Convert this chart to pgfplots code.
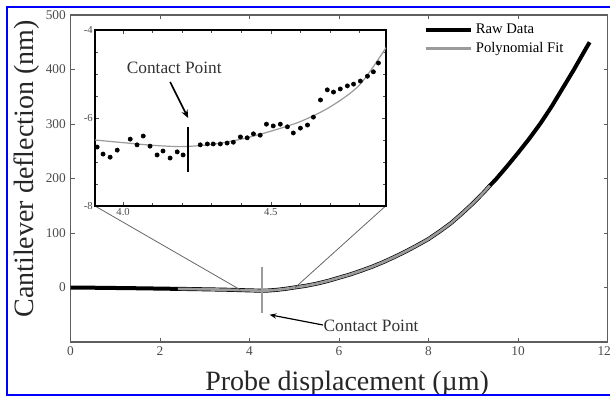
\documentclass[border=0pt]{standalone}
\usepackage{pgfplots}
\pgfplotsset{compat=1.18}
\usepackage{fontspec}
\setmainfont{Liberation Serif}
\usetikzlibrary{arrows.meta}
\definecolor{polygray}{RGB}{155,155,155}
\definecolor{axgray}{RGB}{95,95,95}
\begin{document}
\begin{tikzpicture}
\useasboundingbox (-52.9pt,-41.25pt) rectangle (404.6pt,256.5pt);
\begin{axis}[
  at={(0pt,0pt)}, anchor=south west,
  scale only axis, width=402.75pt, height=245.25pt,
  xmin=0, xmax=12, ymin=-100, ymax=500,
  xtick={0,2,...,12}, ytick={0,100,...,500},
  xticklabels={0,2,4,6,8,10,\llap{1}2},
  tick align=inside, major tick length=3pt,
  axis line style={axgray, line width=0.8pt},
  every tick/.style={axgray, line width=0.6pt},
  tick label style={font=\fontsize{10}{12}\selectfont, text=black!70},
  /pgf/number format/assume math mode=true,
  xlabel={Probe displacement (\textmu m)},
  ylabel={Cantilever deflection (nm)},
  label style={font=\fontsize{21}{24}\selectfont, text=black!85, inner sep=0pt},
  xlabel style={at={(axis description cs:0.515,-0.1468)}, anchor=base},
  ylabel style={at={(axis description cs:-0.0695,0.529)}, anchor=base},
  legend style={at={(axis description cs:0.655,0.985)}, anchor=north west,
    draw=none, fill=none, font=\fontsize{11}{13}\selectfont, row sep=1pt,
    inner sep=1pt},
  legend cell align=left,
  legend image code/.code={\draw[#1] (0pt,0pt) -- (34pt,0pt);},
]
\addplot[black, line width=3pt, line join=round] coordinates {
(0,0)(0.5,-0.4)(1,-0.9)(1.5,-1.4)(2,-2)(2.4,-2.5)(2.8,-3)(3.2,-3.6)(3.6,-4.3)
(4.0,-5.3)(4.2,-5.7)(4.4,-5.6)(4.6,-4.4)(4.8,-2.5)(5.0,0)(5.25,3)(5.5,7)
(5.75,12)(6.0,18)(6.25,24)(6.5,31)(6.75,38.5)(7.0,47)(7.25,56.5)(7.5,66.5)
(7.75,77.5)(8.0,89)(8.25,103)(8.5,118)(8.75,136)(9.0,155)(9.25,176)(9.37,187)
(9.5,198)(9.75,222)(10.0,247)(10.25,273)(10.5,301)(10.75,332)(11.0,366)
(11.25,400)(11.5,436)(11.6,450)};
\addlegendentry{Raw Data}
\addplot[polygray, line width=2pt, line join=round] coordinates {
(2.4,-2.5)(2.8,-3)(3.2,-3.6)(3.6,-4.3)
(4.0,-5.3)(4.2,-5.7)(4.4,-5.6)(4.6,-4.4)(4.8,-2.5)(5.0,0)(5.25,3)(5.5,7)
(5.75,12)(6.0,18)(6.25,24)(6.5,31)(6.75,38.5)(7.0,47)(7.25,56.5)(7.5,66.5)
(7.75,77.5)(8.0,89)(8.25,103)(8.5,118)(8.75,136)(9.0,155)(9.25,176)(9.37,187)};
\addlegendentry{Polynomial Fit}
% zoom lines
\draw[black!60, line width=0.6pt] (axis cs:0.547,149.5) -- (axis cs:3.79,-4);
\draw[black!60, line width=0.6pt] (axis cs:7.04,149.5) -- (axis cs:5.02,0);
% contact point
\draw[polygray, line width=1.5pt] (axis cs:4.28,38) -- (axis cs:4.28,-46);
\draw[black, line width=0.9pt, -{Stealth[length=5pt,width=4pt]}] (axis cs:5.64,-68.8) -- (axis cs:4.45,-50);
\node[anchor=west, inner sep=1pt, font=\fontsize{13}{15}\selectfont, text=black!80] at (axis cs:5.62,-70.6) {Contact Point};
\end{axis}
\begin{axis}[
  at={(18.4pt,102pt)}, anchor=south west,
  scale only axis, width=218.25pt, height=132pt,
  xmin=3.905, xmax=4.89, ymin=-8, ymax=-4,
  xtick={4.0,4.5}, xticklabels={4.0,4.5},
  minor xtick={4.1,4.2,4.3,4.4,4.6,4.7,4.8},
  ytick={-8,-6,-4}, minor ytick={-7.5,-7,-6.5,-5.5,-5,-4.5},
  tick align=inside, major tick length=3pt, minor tick length=2pt,
  axis line style={black, line width=1pt},
  every tick/.style={black!70, line width=0.5pt},
  tick label style={font=\fontsize{8}{10}\selectfont, text=black!70, inner sep=1.5pt},
  /pgf/number format/assume math mode=true,
  axis background/.style={fill=white},
]
\addplot[polygray, line width=0.9pt, smooth] coordinates {
(3.905,-6.50)(4.0,-6.56)(4.1,-6.62)(4.2,-6.65)(4.3,-6.60)(4.4,-6.48)
(4.5,-6.30)(4.6,-6.08)(4.7,-5.75)(4.8,-5.25)(4.89,-4.40)};
\addplot[only marks, mark=*, mark size=1.6pt, black] coordinates {
(3.912,-6.66)(3.932,-6.82)(3.956,-6.89)(3.980,-6.73)(4.024,-6.48)(4.047,-6.61)
(4.068,-6.41)(4.091,-6.64)(4.115,-6.84)(4.135,-6.75)(4.159,-6.91)(4.183,-6.77)
(4.203,-6.84)(4.261,-6.61)(4.285,-6.59)(4.305,-6.59)(4.329,-6.59)(4.352,-6.57)
(4.373,-6.55)(4.397,-6.43)(4.420,-6.45)(4.441,-6.36)(4.464,-6.39)(4.485,-6.14)
(4.508,-6.18)(4.532,-6.14)(4.556,-6.20)(4.576,-6.34)(4.600,-6.23)(4.624,-6.16)
(4.644,-5.98)(4.668,-5.59)(4.691,-5.36)(4.712,-5.41)(4.735,-5.34)(4.759,-5.27)
(4.780,-5.23)(4.803,-5.16)(4.827,-5.05)(4.847,-4.95)(4.864,-4.75)};
\draw[black, line width=1.5pt] (axis cs:4.22,-6.2) -- (axis cs:4.22,-7.23);
\draw[black, line width=1.2pt, -{Stealth[length=6pt,width=5pt]}] (axis cs:4.159,-5.18) -- (axis cs:4.22,-6.0);
\node[font=\fontsize{13}{15}\selectfont, text=black!80, inner sep=1pt] at (axis cs:4.173,-4.86) {Contact Point};
\end{axis}
\draw[blue, line width=1.5pt] (-47.6pt,-39.75pt) rectangle (410pt,251.25pt);
\end{tikzpicture}
\end{document}
